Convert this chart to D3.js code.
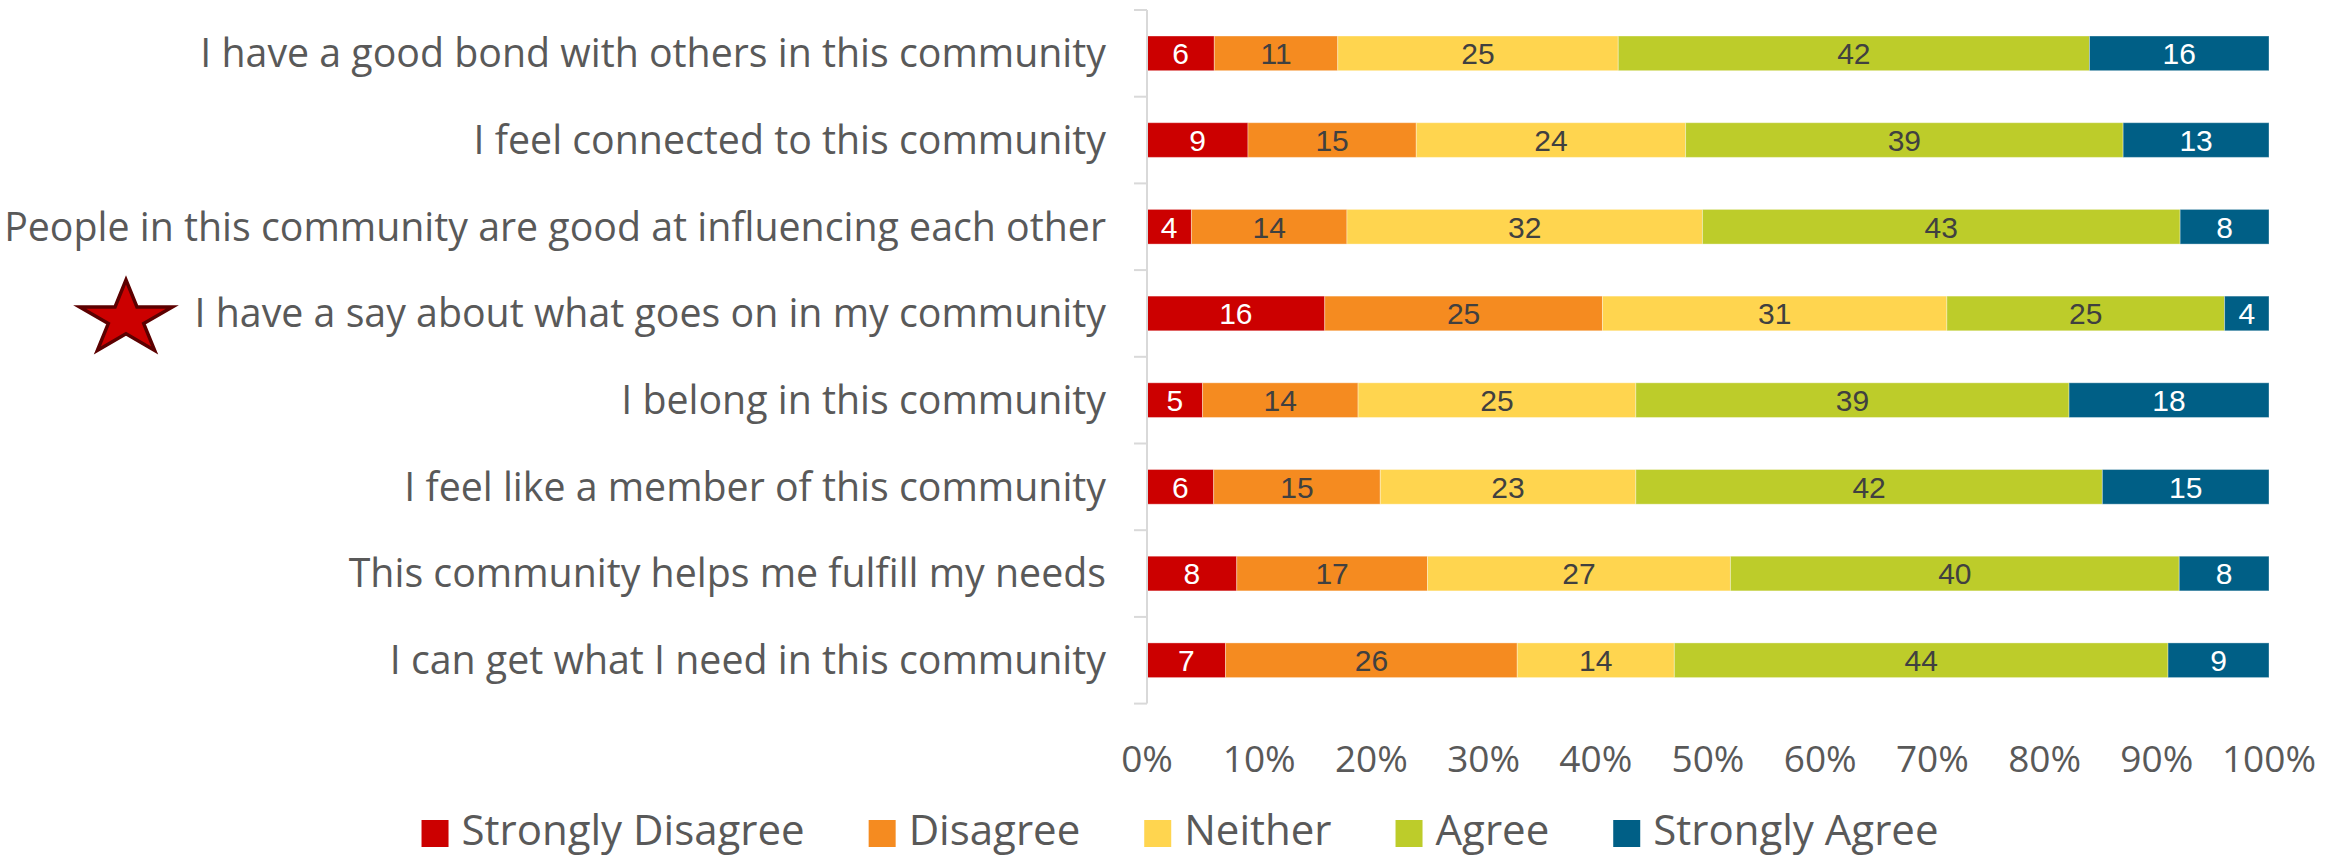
<!DOCTYPE html>
<html>
<head>
<meta charset="utf-8">
<script src="https://cdn.jsdelivr.net/npm/d3@7"></script>
<style>
  html, body { margin: 0; padding: 0; background: #fff; }
  svg { display: block; }
</style>
</head>
<body>
<svg id="chart" width="2344" height="859"></svg>
<script>
// ---- Data ----
const categories = [
  "I have a good bond with others in this community",
  "I feel connected to this community",
  "People in this community are good at influencing each other",
  "I have a say about what goes on in my community",
  "I belong in this community",
  "I feel like a member of this community",
  "This community helps me fulfill my needs",
  "I can get what I need in this community"
];
const seriesNames = ["Strongly Disagree", "Disagree", "Neither", "Agree", "Strongly Agree"];
const stronglyDisagree = [6, 9, 4, 16, 5, 6, 8, 7];
const disagree         = [11, 15, 14, 25, 14, 15, 17, 26];
const neither          = [25, 24, 32, 31, 25, 23, 27, 14];
const agree            = [42, 39, 43, 25, 39, 42, 40, 44];
const stronglyAgree    = [16, 13, 8, 4, 18, 15, 8, 9];
const tickValues = [0, 0.1, 0.2, 0.3, 0.4, 0.5, 0.6, 0.7, 0.8, 0.9, 1.0];
const starredCategory = "I have a say about what goes on in my community";

const seriesValues = [stronglyDisagree, disagree, neither, agree, stronglyAgree];
const colors = ["#CC0000", "#F58B20", "#FFD54F", "#BDCC2A", "#005F86"];
const labelColors = ["#ffffff", "#404040", "#404040", "#404040", "#ffffff"];

// table for stacking
const rows = categories.map((c, i) => {
  const r = { category: c };
  seriesNames.forEach((s, j) => r[s] = seriesValues[j][i]);
  return r;
});

const stacked = d3.stack()
  .keys(seriesNames)
  .offset(d3.stackOffsetExpand)(rows);

// ---- Layout ----
const svg = d3.select("#chart");
const plotLeft = 1147, plotRight = 2269, plotTop = 10, plotBottom = 703.6;

const x = d3.scaleLinear().domain([0, 1]).range([plotLeft, plotRight]);
const y = d3.scaleBand().domain(categories).range([plotTop, plotBottom]).paddingInner(0.6).paddingOuter(0.3);

const textColor = "#595959";

// bars
const g = svg.append("g");
stacked.forEach((layer, j) => {
  const lg = g.append("g");
  lg.selectAll("rect")
    .data(layer)
    .join("rect")
    .attr("x", d => x(d[0]))
    .attr("y", d => y(d.data.category))
    .attr("width", d => x(d[1]) - x(d[0]))
    .attr("height", y.bandwidth())
    .attr("fill", colors[j])
    .attr("stroke", "rgba(255,255,255,0.35)")
    .attr("stroke-width", 1);
  lg.selectAll("text")
    .data(layer)
    .join("text")
    .attr("x", d => (x(d[0]) + x(d[1])) / 2)
    .attr("y", d => y(d.data.category) + y.bandwidth() / 2)
    .attr("dy", "0.36em")
    .attr("text-anchor", "middle")
    .attr("font-family", "'Liberation Sans', Arial, sans-serif")
    .attr("font-size", 30)
    .attr("fill", labelColors[j])
    .text(d => d.data[seriesNames[j]]);
});

// y axis line + ticks at band boundaries
const axisColor = "#D9D9D9";
svg.append("line")
  .attr("x1", plotLeft).attr("x2", plotLeft)
  .attr("y1", plotTop).attr("y2", plotBottom)
  .attr("stroke", axisColor).attr("stroke-width", 2);
const step = y.step();
const boundaries = d3.range(categories.length + 1).map(i => plotTop + i * step);
svg.selectAll(".ytick")
  .data(boundaries)
  .join("line")
  .attr("x1", plotLeft - 13).attr("x2", plotLeft)
  .attr("y1", d => d).attr("y2", d => d)
  .attr("stroke", axisColor).attr("stroke-width", 2);

// category labels
svg.selectAll(".cat")
  .data(categories)
  .join("text")
  .attr("x", plotLeft - 41)
  .attr("y", d => y(d) + y.bandwidth() / 2)
  .attr("dy", "0.35em")
  .attr("text-anchor", "end")
  .attr("font-family", "'Open Sans', sans-serif")
  .attr("font-size", 39.3)
  .attr("fill", textColor)
  .text(d => d);

// star marker next to starred category
const starR = 39;
const starSize = starR * starR / 0.8908130915292852;
svg.append("path")
  .attr("d", d3.symbol(d3.symbolStar, starSize)())
  .attr("transform", `translate(126, ${y(starredCategory) + y.bandwidth() / 2 + 5.5}) scale(1.25, 1)`)
  .attr("fill", "#CC0000")
  .attr("stroke", "#5C0000")
  .attr("stroke-width", 3.5)
  .attr("vector-effect", "non-scaling-stroke")
  .attr("stroke-linejoin", "miter");

// x axis tick labels
svg.selectAll(".xtick")
  .data(tickValues)
  .join("text")
  .attr("x", d => x(d))
  .attr("y", 772)
  .attr("text-anchor", "middle")
  .attr("font-family", "'Open Sans', sans-serif")
  .attr("font-size", 37)
  .attr("fill", textColor)
  .text(d => d3.format(".0%")(d));

// legend
const legend = svg.append("g");
const sq = 27, sqTextGap = 13, itemGap = 64;
let cursor = 0;
const items = [];
seriesNames.forEach((name, j) => {
  const item = legend.append("g");
  item.append("rect")
    .attr("x", 0).attr("y", 820).attr("width", sq).attr("height", sq)
    .attr("fill", colors[j]);
  const t = item.append("text")
    .attr("x", sq + sqTextGap).attr("y", 845)
    .attr("font-family", "'Open Sans', sans-serif")
    .attr("font-size", 42)
    .attr("fill", textColor)
    .text(name);
  const w = sq + sqTextGap + t.node().getComputedTextLength();
  items.push({ item, offset: cursor });
  cursor += w + itemGap;
});
const totalW = cursor - itemGap;
const legendStart = 1180 - totalW / 2;
items.forEach(({ item, offset }) => item.attr("transform", `translate(${legendStart + offset},0)`));
</script>
</body>
</html>
